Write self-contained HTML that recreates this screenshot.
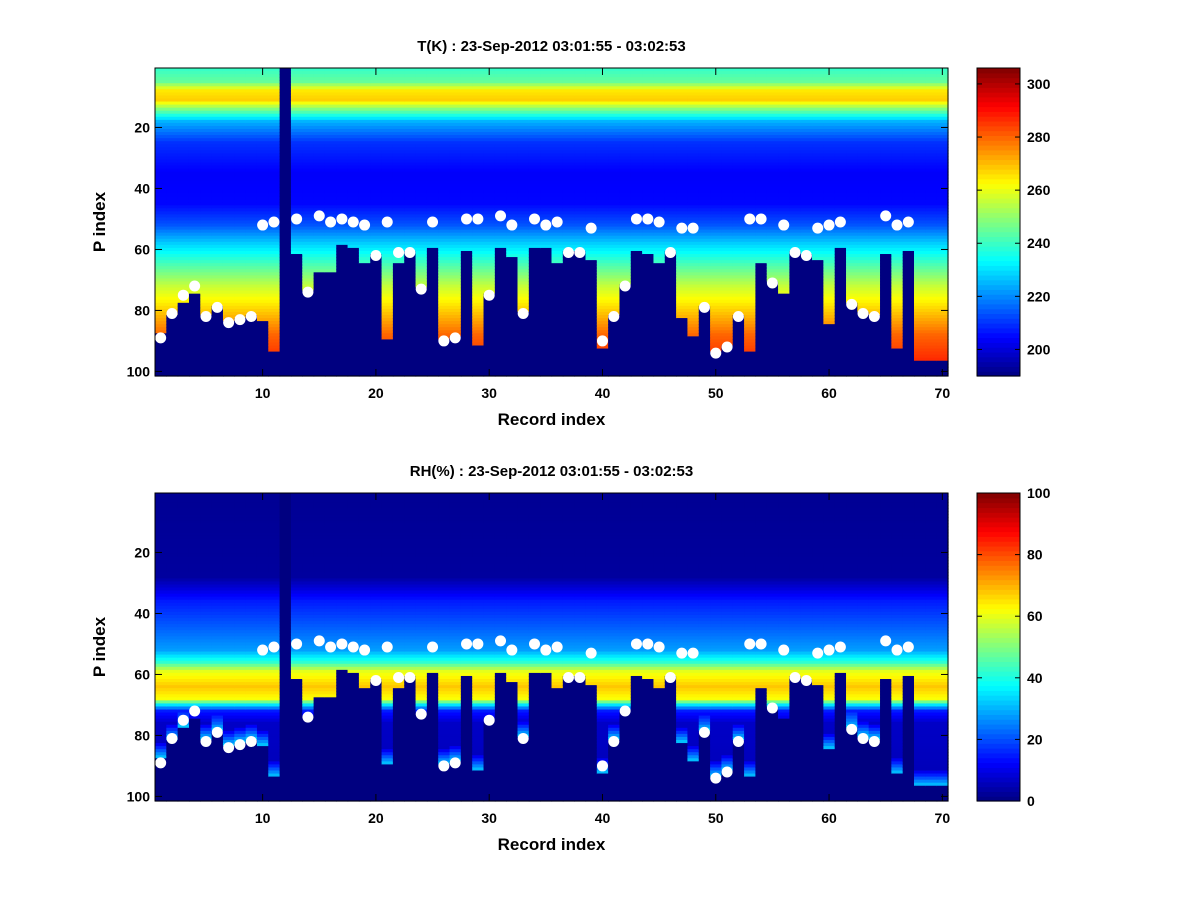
<!DOCTYPE html>
<html><head><meta charset="utf-8">
<style>
html,body{margin:0;padding:0;background:#fff;}
svg text{font-family:"Liberation Sans",sans-serif;font-weight:bold;fill:#000;}
</style></head>
<body>
<svg id="fig" width="1200" height="900" xmlns="http://www.w3.org/2000/svg"></svg>
<script>
// ---- data ----
const records = Array.from({length:70},(_,i)=>i+1);
const dotP = [89,81,75,72,82,79,84,83,82,52,51,null,50,74,49,51,50,51,52,62,51,61,61,73,51,90,89,50,50,75,49,52,81,50,52,51,61,61,53,90,82,72,50,50,51,61,53,53,79,94,92,82,50,50,71,52,61,62,53,52,51,78,81,82,49,52,51,null,null,null];
const groundP = [88,82,78,75,82,79,84,83,82,84,94,0,62,74,68,68,59,60,65,62,90,65,61,73,60,90,89,61,92,75,60,63,81,60,60,65,61,61,64,93,82,72,61,62,65,61,83,89,79,94,92,82,94,65,71,75,61,62,64,85,60,78,81,82,62,93,61,97,97,97];
const tKnotP = [1,5,8,11,14,18,25,35,45,52,58,65,72,80,88,100];
const tKnotV = [240,245,265,268,248,225,210,204,205,214,228,242,256,268,280,290];
const rhKnotP = [1,28,36,45,52,56,59,64,68,70,72,76,100];
const rhKnotV = [2,3,15,22,28,42,60,68,62,35,15,7,5];
const xTicks = [10,20,30,40,50,60,70];
const yTicks = [20,40,60,80,100];
const tCbTicks = [200,220,240,260,280,300];
const rhCbTicks = [0,20,40,60,80,100];

const NS="http://www.w3.org/2000/svg";
const svg=document.getElementById('fig');
function mk(tag,attrs,parent){const e=document.createElementNS(NS,tag);for(const k in attrs)e.setAttribute(k,attrs[k]);(parent||svg).appendChild(e);return e;}
function jet(t){t=Math.max(0,Math.min(1,t));const c=v=>Math.round(255*Math.max(0,Math.min(1,v)));
 return `rgb(${c(1.5-Math.abs(4*t-3))},${c(1.5-Math.abs(4*t-2))},${c(1.5-Math.abs(4*t-1))})`;}
function interp(P,V,p){if(p<=P[0])return V[0];for(let i=1;i<P.length;i++){if(p<=P[i]){const f=(p-P[i-1])/(P[i]-P[i-1]);return V[i-1]+f*(V[i]-V[i-1]);}}return V[V.length-1];}

function panel(top,title,name,valFn,vmin,vmax,cbTicks){
 const L=155,R=948,T=top,B=top+308;
 const xs=v=>L+(v-0.5)*(R-L)/70;
 const ys=p=>T+(p-0.5)*(B-T)/101;
 const g=mk('g',{});
 
 
 const cw=(R-L)/70, ch=(B-T)/101;
 records.forEach((r,i)=>{
  for(let p=1;p<=101;p++){
   const v=valFn(i,p);
   const rc=mk('rect',{x:xs(r-0.5).toFixed(2),y:ys(p-0.5).toFixed(2),width:(cw+0.6).toFixed(2),height:(ch+0.6).toFixed(2),fill:jet((v-vmin)/(vmax-vmin))},g);
   
   
  }
 });
 records.forEach((r,i)=>{ if(dotP[i]==null)return;
  const c=mk('circle',{cx:xs(r),cy:ys(dotP[i]),r:5.5,fill:'#fff'},g);
  
  
 });
 mk('rect',{x:L,y:T,width:R-L,height:B-T,fill:'none',stroke:'#000','stroke-width':1},g);
 xTicks.forEach(v=>{const x=xs(v);mk('line',{x1:x,x2:x,y1:B,y2:B-7,stroke:'#000'},g);mk('line',{x1:x,x2:x,y1:T,y2:T+7,stroke:'#000'},g);
  const t=mk('text',{x:x,y:B+22,'text-anchor':'middle','font-size':14},g);t.textContent=v;
  });
 yTicks.forEach(v=>{const y=ys(v);mk('line',{x1:L,x2:L+7,y1:y,y2:y,stroke:'#000'},g);mk('line',{x1:R,x2:R-7,y1:y,y2:y,stroke:'#000'},g);
  const t=mk('text',{x:L-5,y:y+5,'text-anchor':'end','font-size':14},g);t.textContent=v;
  });
 let t=mk('text',{x:(L+R)/2,y:T-17,'text-anchor':'middle','font-size':15},g);t.textContent=title;
 
 t=mk('text',{x:(L+R)/2,y:B+49,'text-anchor':'middle','font-size':17},g);t.textContent='Record index';
 
 t=mk('text',{x:105,y:(T+B)/2,'text-anchor':'middle','font-size':17,transform:`rotate(-90 105 ${(T+B)/2})`},g);t.textContent='P index';
 
 const cb=mk('g',{});
 
 
 const CL=977,CR=1020,n=64;
 for(let k=0;k<n;k++){mk('rect',{x:CL,y:(B-(k+1)*(B-T)/n).toFixed(2),width:CR-CL,height:((B-T)/n+0.6).toFixed(2),fill:jet((k+0.5)/n)},cb);}
 mk('rect',{x:CL,y:T,width:CR-CL,height:B-T,fill:'none',stroke:'#000'},cb);
 const cy=v=>B-(v-vmin)/(vmax-vmin)*(B-T);
 cbTicks.forEach(v=>{const y=cy(v);mk('line',{x1:CR,x2:CR-5,y1:y,y2:y,stroke:'#000'},cb);mk('line',{x1:CL,x2:CL+5,y1:y,y2:y,stroke:'#000'},cb);
  const tt=mk('text',{x:CR+7,y:y+5,'font-size':14},cb);tt.textContent=v;
  });
}
const tMin=190,tMax=306;
panel(68,'T(K) : 23-Sep-2012 03:01:55 - 03:02:53','temperature',(i,p)=>{
 if(groundP[i]===0||p>=groundP[i])return tMin; return interp(tKnotP,tKnotV,p);
},tMin,tMax,tCbTicks);
panel(493,'RH(%) : 23-Sep-2012 03:01:55 - 03:02:53','humidity',(i,p)=>{
 if(groundP[i]===0||p>=groundP[i])return 0;
 let v=interp(rhKnotP,rhKnotV,p);
 const d=groundP[i]-p; if(d<6&&groundP[i]>75)v+=30*(1-d/6);
 return v;
},0,100,rhCbTicks);
</script>
</body></html>
